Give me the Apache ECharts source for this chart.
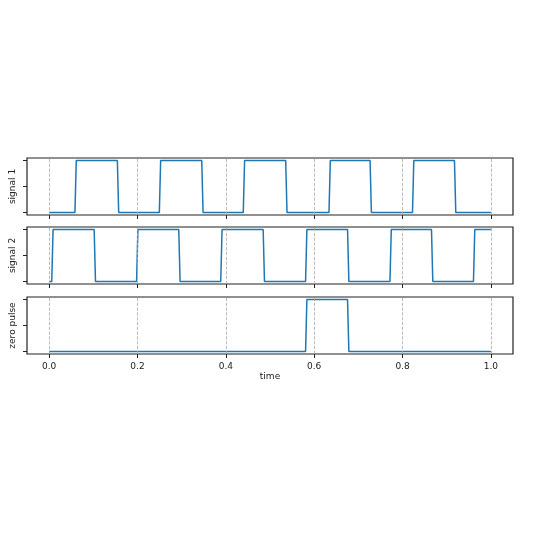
<!DOCTYPE html><html><head><meta charset="utf-8"><script src="https://cdn.jsdelivr.net/npm/echarts@6/dist/echarts.min.js"></script>
<style>html,body{margin:0;background:#fff}#c{width:540px;height:540px}</style></head><body><div id="c"></div><script>
const sig1Edges=[0.060,0.156,0.251,0.347,0.441,0.537,0.635,0.728,0.824,0.919];
const sig1Start=0;
const sig2Edges=[0.0075,0.1035,0.1995,0.295,0.390,0.486,0.582,0.677,0.773,0.867,0.962];
const sig2Start=0;
const pulseEdges=[0.582,0.677];
const pulseStart=0;
const xTicks=[0,0.2,0.4,0.6,0.8,1.0];
const names=['signal 1','signal 2','zero pulse'];
function build(edges,start){const d=[[0,start]];let v=start;const w=0.003;for(const e of edges){d.push([e-w/2,v]);v=1-v;d.push([e+w/2,v]);}d.push([1,v]);return d;}
const datas=[build(sig1Edges,sig1Start),build(sig2Edges,sig2Start),build(pulseEdges,pulseStart)];
const tops=[158,227,297],h=57;
const grids=[],xA=[],yA=[],series=[];
for(let i=0;i<3;i++){
grids.push({left:25,width:488,top:tops[i],height:h,show:true,borderColor:'#222',borderWidth:1.2,backgroundColor:'transparent'});
xA.push({type:'value',gridIndex:i,min:-0.05,max:1.05,interval:0.2,
 axisLine:{show:false,onZero:false},axisTick:{show:true,length:4,lineStyle:{color:'#222'},customValues:xTicks},
 axisLabel:{show:i===2,fontSize:9,color:'#222',fontFamily:'DejaVu Sans',customValues:xTicks,formatter:v=>v.toFixed(1)},
 splitLine:{show:false},
 name:i===2?'time':'',nameLocation:'middle',nameGap:17,nameTextStyle:{fontSize:9,color:'#222',fontFamily:'DejaVu Sans'}});
yA.push({type:'value',gridIndex:i,min:-0.05,max:1.05,axisLine:{show:false,onZero:false},
 axisTick:{show:true,length:4,lineStyle:{color:'#222'},customValues:[0,0.5,1]},axisLabel:{show:false},splitLine:{show:false},
 name:names[i],nameLocation:'middle',nameGap:10,nameRotate:90,nameTextStyle:{fontSize:9,color:'#222',fontFamily:'DejaVu Sans'}});
series.push({type:'line',xAxisIndex:i,yAxisIndex:i,data:datas[i],showSymbol:false,lineStyle:{color:'#1f77b4',width:1.5},animation:false,
 markLine:{silent:true,symbol:'none',label:{show:false},lineStyle:{color:'#aaa',type:'dashed',width:0.8},data:xTicks.map(x=>({xAxis:x}))}});
}
const ch=echarts.init(document.getElementById('c'));
ch.setOption({animation:false,grid:grids,xAxis:xA,yAxis:yA,series});
</script></body></html>
